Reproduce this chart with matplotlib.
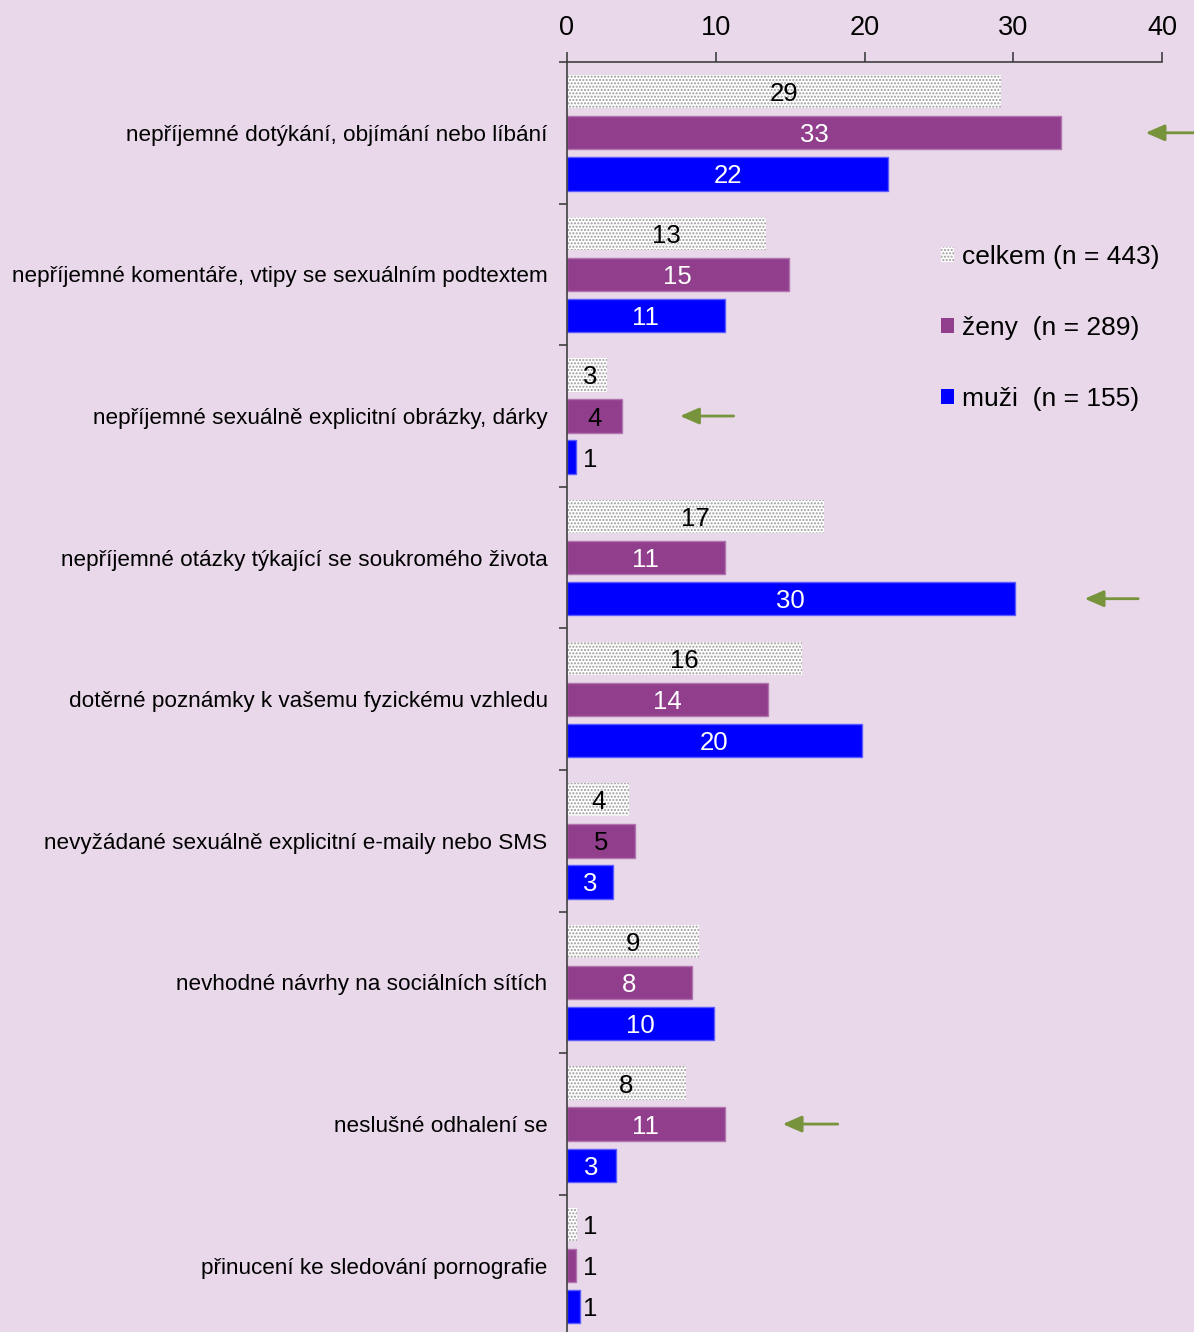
import matplotlib.pyplot as plt
from matplotlib.patches import Patch
import numpy as np

# kategorie (shora dolu)
categories = [
    "nepříjemné dotýkání, objímání nebo líbání",
    "nepříjemné komentáře, vtipy se sexuálním podtextem",
    "nepříjemné sexuálně explicitní obrázky, dárky",
    "nepříjemné otázky týkající se soukromého života",
    "dotěrné poznámky k vašemu fyzickému vzhledu",
    "nevyžádané sexuálně explicitní e-maily nebo SMS",
    "nevhodné návrhy na sociálních sítích",
    "neslušné odhalení se",
    "přinucení ke sledování pornografie",
]
celkem = [29.2, 13.4, 2.7, 17.3, 15.8, 4.2, 8.9, 8.0, 0.7]
zeny = [33.2, 14.9, 3.7, 10.6, 13.5, 4.6, 8.4, 10.6, 0.6]
muzi = [21.6, 10.6, 0.6, 30.1, 19.8, 3.1, 9.9, 3.3, 0.9]
legend_labels = ["celkem (n = 443)", "ženy  (n = 289)", "muži  (n = 155)"]

# sipky: (radek, serie 0/1/2, hrot x, konec x)
arrows = [(0, 1, 38.9, 42.3), (2, 1, 7.6, 11.2), (3, 2, 34.8, 38.4), (7, 1, 14.5, 18.2)]

BG = "#E8D8E9"
PURPLE = "#913E8D"
BLUE = "#0000FF"
GREEN = "#77933C"
FONT = "Liberation Sans"
NARROW = ["Liberation Sans Narrow", "Liberation Sans"]

fig = plt.figure(figsize=(11.94, 13.32), dpi=100, facecolor=BG)
ax = fig.add_axes([567 / 1194, -4.5 / 1332, (1162 - 567) / 1194, (1332 - 62 + 4.5) / 1332])
ax.set_facecolor(BG)

y = np.arange(len(categories))
h = 0.235
off = 0.29

ax.barh(y - off, celkem, height=h, color="white", edgecolor="#9A9A9A",
        hatch=".....", linewidth=0)
ax.barh(y, zeny, height=h, color=PURPLE, edgecolor="#B273B0", linewidth=1)
ax.barh(y + off, muzi, height=h, color=BLUE, edgecolor="#5A5AFF", linewidth=1)

for i in range(len(categories)):
    for k, (vals, dy) in enumerate([(celkem, -off), (zeny, 0), (muzi, off)]):
        v = vals[i]
        xpos = max(v / 2, 1.55)
        if k == 0:
            col = "black"
        elif k == 1:
            col = "white" if v > 6 else "black"
        else:
            col = "white" if v > 2 else "black"
        ax.text(xpos, y[i] + dy, str(int(round(v))), ha="center",
                va="center_baseline", fontsize=18.5, color=col, family=NARROW)

for row, s, tip, tail in arrows:
    yy = y[row] + (s - 1) * off
    ax.annotate("", xy=(tip, yy), xytext=(tail, yy), annotation_clip=False,
                arrowprops=dict(arrowstyle="-|>,head_length=1.15,head_width=0.5",
                                color=GREEN, lw=2, shrinkA=0, shrinkB=0))

ax.set_xlim(0, 40)
ax.set_ylim(len(categories) - 0.5, -0.5)
ax.xaxis.tick_top()
ax.set_xticks([0, 10, 20, 30, 40])
ax.tick_params(axis="x", direction="out", length=7, width=1.2, color="#404040",
               pad=8, labelsize=19.5)
for lbl in ax.get_xticklabels():
    lbl.set_family(NARROW)

ax.set_yticks(y)
ax.set_yticklabels(categories, fontsize=16.2, family=FONT)
ax.tick_params(axis="y", which="major", length=0, pad=14)
ax.set_yticks(np.arange(-0.5, len(categories), 1), minor=True)
ax.tick_params(axis="y", which="minor", direction="out", length=6, width=1.2,
               color="#404040")

for side in ["right", "bottom"]:
    ax.spines[side].set_visible(False)
for side in ["top", "left"]:
    ax.spines[side].set_color("#404040")
    ax.spines[side].set_linewidth(1.2)

handles = [Patch(facecolor="white", edgecolor="#9A9A9A", hatch=".....", linewidth=0),
           Patch(facecolor=PURPLE, linewidth=0),
           Patch(facecolor=BLUE, linewidth=0)]
fig.legend(handles, legend_labels, loc="upper left",
           bbox_to_anchor=(941 / 1194, 1 - 245 / 1332), frameon=False,
           prop={"family": FONT, "size": 19}, handlelength=0.5, handleheight=0.5,
           handletextpad=0.3, labelspacing=1.78, borderpad=0, borderaxespad=0)

fig.savefig("out.png", dpi=100, facecolor=BG)
